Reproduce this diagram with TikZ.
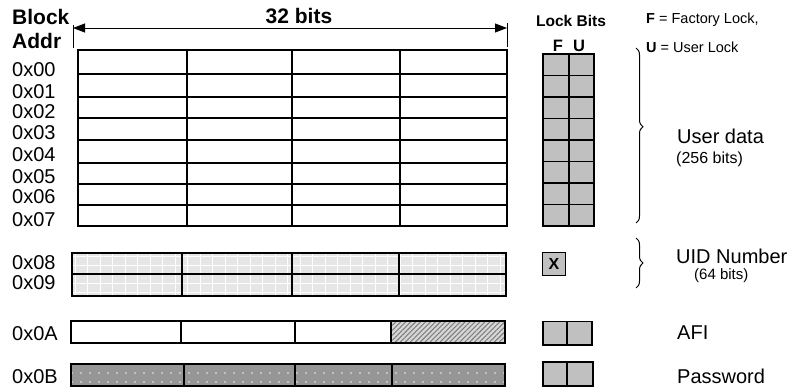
\documentclass[tikz,border=0pt]{standalone}
\usepackage{fontspec}
\setmainfont{Liberation Sans}
\usetikzlibrary{arrows.meta,patterns.meta,decorations.pathreplacing}
\definecolor{lockgray}{RGB}{192,192,192}
\definecolor{uidgray}{RGB}{230,230,230}
\definecolor{pwgray}{RGB}{150,150,150}
\definecolor{hatchgray}{RGB}{215,215,215}
\begin{document}
\begin{tikzpicture}[x=1pt,y=-1pt,
  lbl/.style={anchor=west,inner sep=0pt,font=\fontsize{20}{22}\selectfont},
  sublbl/.style={anchor=west,inner sep=0pt,font=\fontsize{16}{18}\selectfont},
  hdr/.style={anchor=west,inner sep=0pt,font=\fontsize{21}{23}\selectfont\bfseries},
  small/.style={anchor=west,inner sep=0pt,font=\fontsize{14.5}{16}\selectfont},
  cellline/.style={line width=2pt},
  lockcell/.style={draw,line width=1.3pt,fill=lockgray},
  bracestyle/.style={decorate,decoration={brace,amplitude=7pt},line width=1pt},
  dimline/.style={line width=0.8pt,{Triangle[length=12pt,width=9pt]}-{Triangle[length=12pt,width=9pt]}}]
\useasboundingbox (0,0) rectangle (797,391);

% headers
\node[hdr] (block) at (12,16.5) {Block};
\node[hdr] (addr) at (12,41) {Addr};
\node[hdr,anchor=center] (bits) at (299,16.5) {32 bits};
\coordinate (arrL) at (73,28);
\coordinate (arrR) at (507,28);
\draw[line width=0.8pt] (73,25) -- (73,48);
\draw[line width=0.8pt] (507,23) -- (507,47);
\draw[dimline] (arrL) -- (arrR);

% user data grid
\draw[cellline] (78,50) rectangle (507,226);
\foreach \yy in {74,97,118,140,163,184,205} \draw[cellline] (78,\yy) -- (507,\yy);
\foreach \xx in {187,292,400} \draw[cellline] (\xx,50) -- (\xx,226);

% row labels
\node[lbl] (a00) at (12,70) {0x00};
\node[lbl] (a01) at (12,91.5) {0x01};
\node[lbl] (a02) at (12,111.5) {0x02};
\node[lbl] (a03) at (12,133) {0x03};
\node[lbl] (a04) at (12,155) {0x04};
\node[lbl] (a05) at (12,177) {0x05};
\node[lbl] (a06) at (12,196.5) {0x06};
\node[lbl] (a07) at (12,219.5) {0x07};
\node[lbl] (a08) at (12,263) {0x08};
\node[lbl] (a09) at (12,282.5) {0x09};
\node[lbl] (a0A) at (12,334) {0x0A};
\node[lbl] (a0B) at (12,376.5) {0x0B};

% UID rows
\fill[uidgray] (72,253) rectangle (506,296);
\fill[pattern={Lines[angle=0,distance=9pt,line width=0.7pt]},pattern color=white] (72,253) rectangle (506,296);
\fill[pattern={Lines[angle=90,distance=12.5pt,line width=0.7pt]},pattern color=white] (72,253) rectangle (506,296);
\draw[cellline] (72,253) rectangle (506,296);
\draw[cellline] (72,274) -- (506,274);
\foreach \xx in {182,292,399} \draw[cellline] (\xx,253) -- (\xx,296);

% AFI row
\fill[hatchgray] (391,321) rectangle (505,343);
\fill[pattern={Lines[angle=45,distance=3.5pt,line width=1.1pt]},pattern color=gray] (391,321) rectangle (505,343);
\draw[cellline] (71,321) rectangle (505,343);
\foreach \xx in {181,295,391} \draw[cellline] (\xx,321) -- (\xx,343);

% Password row
\fill[pwgray] (71,364) rectangle (505,386);
\fill[pattern={Dots[distance=9pt,radius=0.8pt]},pattern color=white!90!gray] (71,364) rectangle (505,386);
\draw[cellline] (71,364) rectangle (505,386);
\foreach \xx in {184,295,392} \draw[cellline] (\xx,364) -- (\xx,386);

% lock bits
\node[anchor=center,inner sep=0pt,font=\fontsize{15.5}{17}\selectfont\bfseries] (lockbits) at (571,21) {Lock Bits};
\node[anchor=center,inner sep=0pt,font=\fontsize{16.5}{18}\selectfont\bfseries] (lf) at (558,46) {F};
\node[anchor=center,inner sep=0pt,font=\fontsize{16.5}{18}\selectfont\bfseries] (lu) at (579,46) {U};
\foreach \i in {0,...,7} {
  \draw[lockcell] (543,54+21.5*\i) rectangle (569,75.5+21.5*\i);
  \draw[lockcell] (569,54+21.5*\i) rectangle (594,75.5+21.5*\i);
}
\node[draw,line width=1.3pt,fill=lockgray,minimum width=23pt,minimum height=23pt,inner sep=0pt,
  font=\fontsize{16}{17}\selectfont\bfseries] (xbox) at (554,264) {X};
\draw[lockcell] (543,321.5) rectangle (567,345);
\draw[lockcell] (567,321.5) rectangle (592,345);
\draw[lockcell] (543,362) rectangle (567,386);
\draw[lockcell] (567,362) rectangle (593,386);

% legend
\node[small] (legF) at (646,20) {\textbf{F} = Factory Lock,};
\node[small] (legU) at (646,47.5) {\textbf{U} = User Lock};

% braces
\coordinate (ubTop) at (636,48);
\coordinate (ubBot) at (636,223);
\draw[bracestyle,decoration={aspect=0.45}] (ubTop) -- (ubBot);
\coordinate (uidTop) at (636,238);
\coordinate (uidBot) at (636,288);
\draw[bracestyle] (uidTop) -- (uidBot);

% region labels
\node[lbl] (userdata) at (677,136) {User data};
\node[sublbl] (ubits) at (676,159) {(256 bits)};
\node[lbl] (uid) at (676,256) {UID Number};
\node[sublbl,font=\fontsize{15}{17}\selectfont] (uidbits) at (694,276) {(64 bits)};
\node[lbl] (afi) at (677,332.5) {AFI};
\node[lbl] (pw) at (677,376) {Password};
\end{tikzpicture}
\end{document}
